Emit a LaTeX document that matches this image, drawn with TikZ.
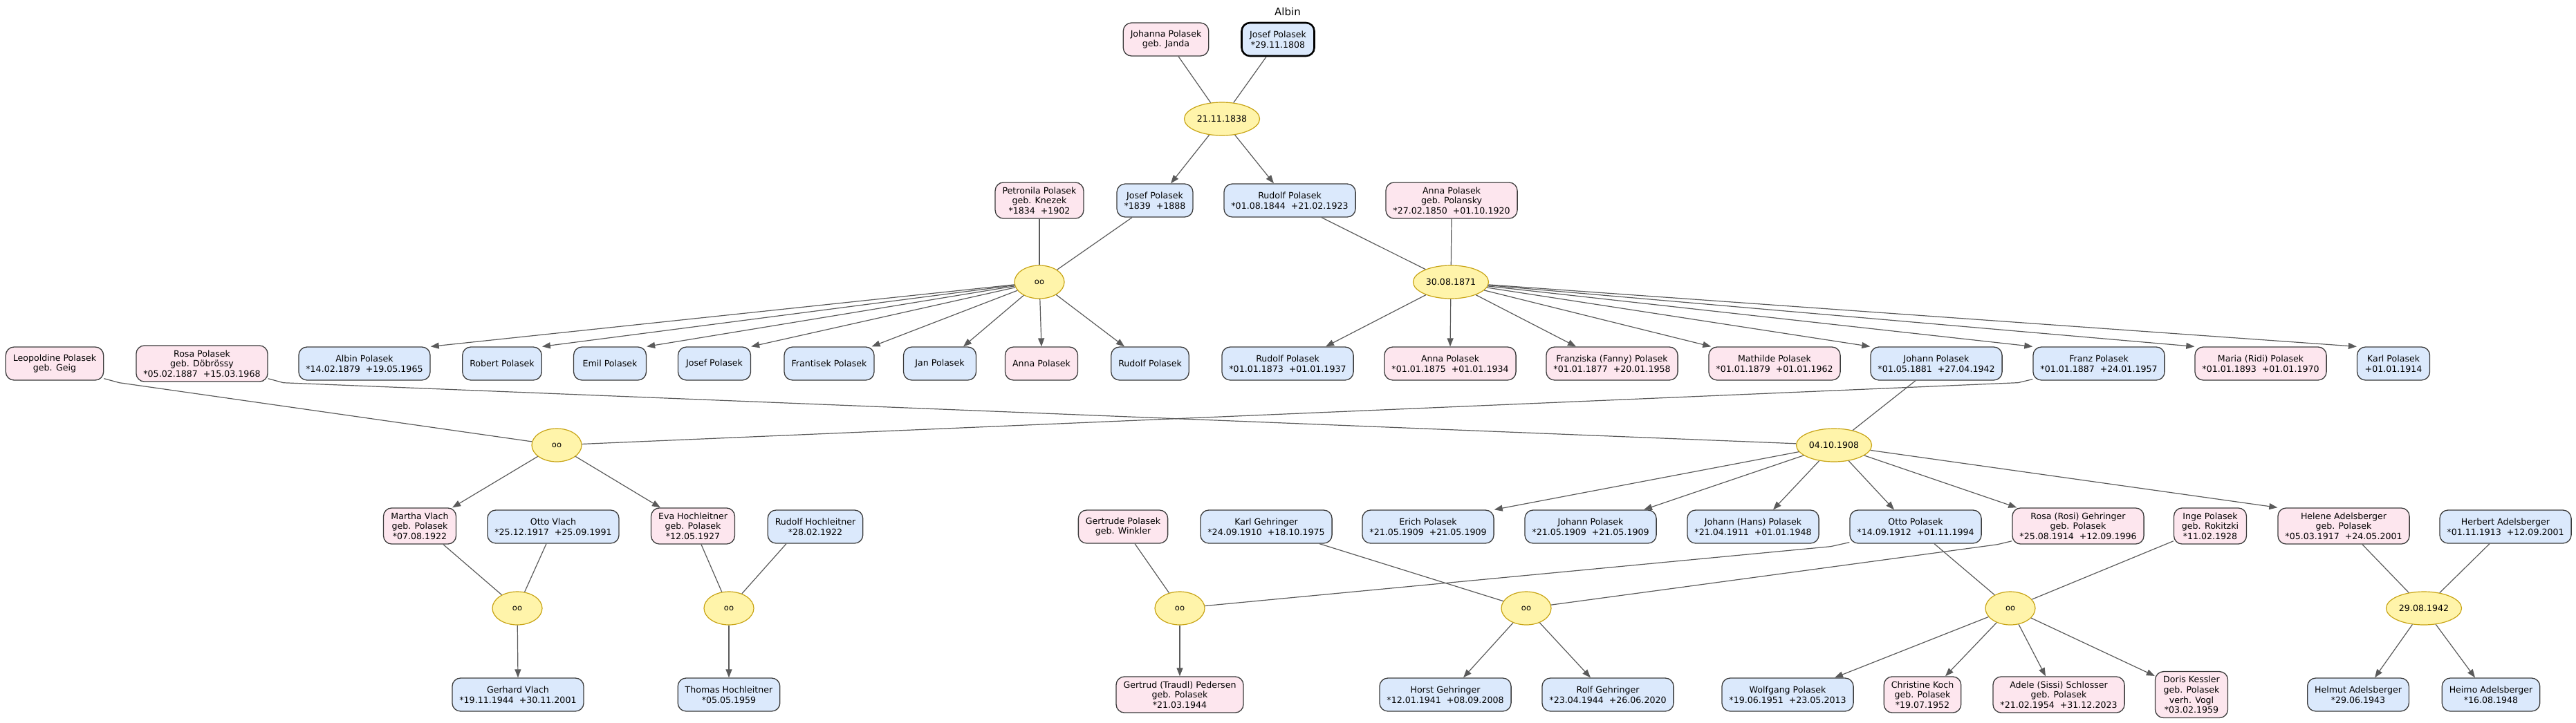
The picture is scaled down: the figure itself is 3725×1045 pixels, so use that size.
\documentclass[tikz,border=0pt]{standalone}
\usepackage{fontspec}
\setmainfont{DejaVu Sans}
\usetikzlibrary{shapes.geometric,arrows.meta}
\definecolor{bluef}{HTML}{DBE9FC}
\definecolor{pinkf}{HTML}{FDE6EE}
\definecolor{yellowf}{HTML}{FFF4AA}
\definecolor{goldc}{HTML}{C8A415}
\definecolor{edgec}{HTML}{5A5A5A}
\definecolor{bordc}{HTML}{3C3C3C}
\newcommand{\pfont}{\fontsize{12.6}{14.7}\selectfont}
\tikzset{
  person/.style={draw=bordc, line width=1.3pt, rounded corners=12pt, align=center,
    minimum height=48pt, minimum width=105pt, inner xsep=10.5pt, inner ysep=6.5pt, font=\pfont},
  male/.style={person, fill=bluef},
  female/.style={person, fill=pinkf},
  marr/.style={ellipse, draw=goldc, fill=yellowf, line width=1.2pt, minimum width=72pt,
    minimum height=48pt, inner sep=0pt, font=\fontsize{11.5}{13}\selectfont},
  datem/.style={marr, minimum width=109pt, font=\pfont},
  link/.style={draw=edgec, line width=1.2pt},
  child/.style={link, -{Triangle[length=12pt,width=9pt]}},
}
\begin{document}
\begin{tikzpicture}[x=1pt,y=-1pt]
\useasboundingbox (0,0) rectangle (3725,1045);
\node[font=\fontsize{15}{17}\selectfont] (title) at (1862,17) {Albin};
% generation 0
\node[female] (johanna) at (1686,57) {Johanna Polasek\\geb. Janda};
\node[male, draw=black, line width=2.6pt] (josef0) at (1848,57) {Josef Polasek\\*29.11.1808};
\node[datem] (m0) at (1767,172) {21.11.1838};
% generation 1
\node[female] (petronila) at (1503,290) {Petronila Polasek\\geb. Knezek\\*1834\ \ +1902};
\node[male] (josef1) at (1670,290) {Josef Polasek\\*1839\ \ +1888};
\node[male] (rudolf1) at (1865,290) {Rudolf Polasek\\*01.08.1844\ \ +21.02.1923};
\node[female] (annaP) at (2099,290) {Anna Polasek\\geb. Polansky\\*27.02.1850\ \ +01.10.1920};
\node[marr] (m1) at (1503,408) {oo};
\node[datem] (m2) at (2098,408) {30.08.1871};
% generation 2
\node[female] (leopoldine) at (79,526) {Leopoldine Polasek\\geb. Geig};
\node[female] (rosaD) at (292,526) {Rosa Polasek\\geb. Döbrössy\\*05.02.1887\ \ +15.03.1968};
\node[male] (albin) at (527,526) {Albin Polasek\\*14.02.1879\ \ +19.05.1965};
\node[male] (robert) at (726,526) {Robert Polasek};
\node[male] (emil) at (882,526) {Emil Polasek};
\node[male] (josef2) at (1033,526) {Josef Polasek};
\node[male] (frantisek) at (1199,526) {Frantisek Polasek};
\node[male] (jan) at (1359,526) {Jan Polasek};
\node[female] (anna2) at (1506,526) {Anna Polasek};
\node[male] (rudolf2) at (1663,526) {Rudolf Polasek};
\node[male] (rudolf3) at (1862,526) {Rudolf Polasek\\*01.01.1873\ \ +01.01.1937};
\node[female] (anna3) at (2097,526) {Anna Polasek\\*01.01.1875\ \ +01.01.1934};
\node[female] (franziska) at (2331,526) {Franziska (Fanny) Polasek\\*01.01.1877\ \ +20.01.1958};
\node[female] (mathilde) at (2566,526) {Mathilde Polasek\\*01.01.1879\ \ +01.01.1962};
\node[male] (johann1) at (2800,526) {Johann Polasek\\*01.05.1881\ \ +27.04.1942};
\node[male] (franz) at (3035,526) {Franz Polasek\\*01.01.1887\ \ +24.01.1957};
\node[female] (maria) at (3269,526) {Maria (Ridi) Polasek\\*01.01.1893\ \ +01.01.1970};
\node[male] (karl) at (3461,526) {Karl Polasek\\+01.01.1914};
\node[marr] (mL) at (805,644) {oo};
\node[datem] (m3) at (2652,644) {04.10.1908};
% generation 3
\node[female] (martha) at (607,761) {Martha Vlach\\geb. Polasek\\*07.08.1922};
\node[male] (ottoV) at (800,762) {Otto Vlach\\*25.12.1917\ \ +25.09.1991};
\node[female] (eva) at (1002,761) {Eva Hochleitner\\geb. Polasek\\*12.05.1927};
\node[male] (rudolfH) at (1179,762) {Rudolf Hochleitner\\*28.02.1922};
\node[female] (gertrude) at (1624,762) {Gertrude Polasek\\geb. Winkler};
\node[male] (karlG) at (1831,762) {Karl Gehringer\\*24.09.1910\ \ +18.10.1975};
\node[male] (erich) at (2065,762) {Erich Polasek\\*21.05.1909\ \ +21.05.1909};
\node[male] (johann2) at (2300,762) {Johann Polasek\\*21.05.1909\ \ +21.05.1909};
\node[male] (hans) at (2535,762) {Johann (Hans) Polasek\\*21.04.1911\ \ +01.01.1948};
\node[male] (otto) at (2770,762) {Otto Polasek\\*14.09.1912\ \ +01.11.1994};
\node[female] (rosi) at (3005,761) {Rosa (Rosi) Gehringer\\geb. Polasek\\*25.08.1914\ \ +12.09.1996};
\node[female] (inge) at (3196,761) {Inge Polasek\\geb. Rokitzki\\*11.02.1928};
\node[female] (helene) at (3389,761) {Helene Adelsberger\\geb. Polasek\\*05.03.1917\ \ +24.05.2001};
\node[male] (herbert) at (3623,762) {Herbert Adelsberger\\*01.11.1913\ \ +12.09.2001};
\node[marr] (mV) at (748,880) {oo};
\node[marr] (mH) at (1054,880) {oo};
\node[marr] (mG) at (1706,880) {oo};
\node[marr] (mGe) at (2207,880) {oo};
\node[marr] (mO) at (2907,880) {oo};
\node[datem] (m4) at (3505,880) {29.08.1942};
% generation 4
\node[male] (gerhard) at (749,1005) {Gerhard Vlach\\*19.11.1944\ \ +30.11.2001};
\node[male] (thomas) at (1054,1005) {Thomas Hochleitner\\*05.05.1959};
\node[female] (traudl) at (1706,1005) {Gertrud (Traudl) Pedersen\\geb. Polasek\\*21.03.1944};
\node[male] (horst) at (2090,1005) {Horst Gehringer\\*12.01.1941\ \ +08.09.2008};
\node[male] (rolf) at (2325,1005) {Rolf Gehringer\\*23.04.1944\ \ +26.06.2020};
\node[male] (wolfgang) at (2585,1005) {Wolfgang Polasek\\*19.06.1951\ \ +23.05.2013};
\node[female] (christine) at (2780,1005) {Christine Koch\\geb. Polasek\\*19.07.1952};
\node[female] (adele) at (2977,1005) {Adele (Sissi) Schlosser\\geb. Polasek\\*21.02.1954\ \ +31.12.2023};
\node[female] (doris) at (3169,1005) {Doris Kessler\\geb. Polasek\\verh. Vogl\\*03.02.1959};
\node[male] (helmut) at (3410,1005) {Helmut Adelsberger\\*29.06.1943};
\node[male] (heimo) at (3602,1005) {Heimo Adelsberger\\*16.08.1948};
% ---- parent links
\draw[link] ([xshift=18pt]johanna.south) -- (m0);
\draw[link] ([xshift=-17pt]josef0.south) -- (m0);
\draw[link] (petronila.south) -- (m1);
\draw[link] ([xshift=-33pt]josef1.south) -- (m1);
\draw[link] ([xshift=46pt]rudolf1.south) -- (m2);
\draw[link] (annaP.south) -- (m2);
\draw[link] ([xshift=-30pt]johann1.south) -- (m3);
\draw[link] ([yshift=5pt]rosaD.south east) -- ++(22,6) -- (m3);
\draw[link] ([yshift=3pt]leopoldine.south east) -- ++(22,6) -- (mL);
\draw[link] ([yshift=2pt]franz.south west) -- ++(-21,5) -- (mL);
\draw[link] ([xshift=34pt]martha.south) -- (mV);
\draw[link] ([xshift=-10pt]ottoV.south) -- (mV);
\draw[link] ([xshift=12pt]eva.south) -- (mH);
\draw[link] ([xshift=-42pt]rudolfH.south) -- (mH);
\draw[link] ([xshift=17pt]gertrude.south) -- (mG);
\draw[link] ([yshift=2pt]otto.south west) -- ++(-27,6) -- (mG);
\draw[link] ([xshift=77pt]karlG.south) -- (mGe);
\draw[link] ([yshift=5pt]rosi.south west) -- ++(-21,5) -- (mGe);
\draw[link] ([xshift=27pt]otto.south) -- (mO);
\draw[link] ([yshift=5pt]inge.south west) -- (mO);
\draw[link] ([xshift=27pt]helene.south) -- (m4);
\draw[link] ([xshift=-23pt]herbert.south) -- (m4);
% ---- child arrows
\draw[child] (m0) -- ([xshift=23pt]josef1.north);
\draw[child] (m0) -- ([xshift=-23pt]rudolf1.north);
\draw[child] (m1) -- (albin.north east);
\draw[child] (m1) -- (robert.north east);
\draw[child] (m1) -- (emil.north east);
\draw[child] (m1) -- (josef2.north east);
\draw[child] (m1) -- ([xshift=-4pt]frantisek.north east);
\draw[child] (m1) -- ([xshift=34pt]jan.north);
\draw[child] (m1) -- (anna2.north);
\draw[child] (m1) -- ([xshift=-37pt]rudolf2.north);
\draw[child] (m2) -- ([xshift=55pt]rudolf3.north);
\draw[child] (m2) -- (anna3.north);
\draw[child] (m2) -- ([xshift=-52pt]franziska.north);
\draw[child] (m2) -- ([xshift=4pt]mathilde.north west);
\draw[child] (m2) -- (johann1.north west);
\draw[child] (m2) -- (franz.north west);
\draw[child] (m2) -- (maria.north west);
\draw[child] (m2) -- (karl.north west);
\draw[child] (mL) -- ([xshift=-6pt]martha.north east);
\draw[child] (mL) -- ([xshift=14pt]eva.north west);
\draw[child] (m3) -- (erich.north east);
\draw[child] (m3) -- ([xshift=77pt]johann2.north);
\draw[child] (m3) -- ([xshift=29pt]hans.north);
\draw[child] (m3) -- ([xshift=-31pt]otto.north);
\draw[child] (m3) -- ([xshift=7pt]rosi.north west);
\draw[child] (m3) -- (helene.north west);
\draw[child] (mV) -- (gerhard.north);
\draw[child] (mH) -- (thomas.north);
\draw[child] (mG) -- (traudl.north);
\draw[child] (mGe) -- ([xshift=26pt]horst.north);
\draw[child] (mGe) -- ([xshift=-25pt]rolf.north);
\draw[child] (mO) -- ([xshift=68pt]wolfgang.north);
\draw[child] (mO) -- ([xshift=33pt]christine.north);
\draw[child] (mO) -- ([xshift=-19pt]adele.north);
\draw[child] (mO) -- ([yshift=-7pt]doris.north west);
\draw[child] (m4) -- ([xshift=24pt]helmut.north);
\draw[child] (m4) -- ([xshift=-23pt]heimo.north);
\end{tikzpicture}
\end{document}
